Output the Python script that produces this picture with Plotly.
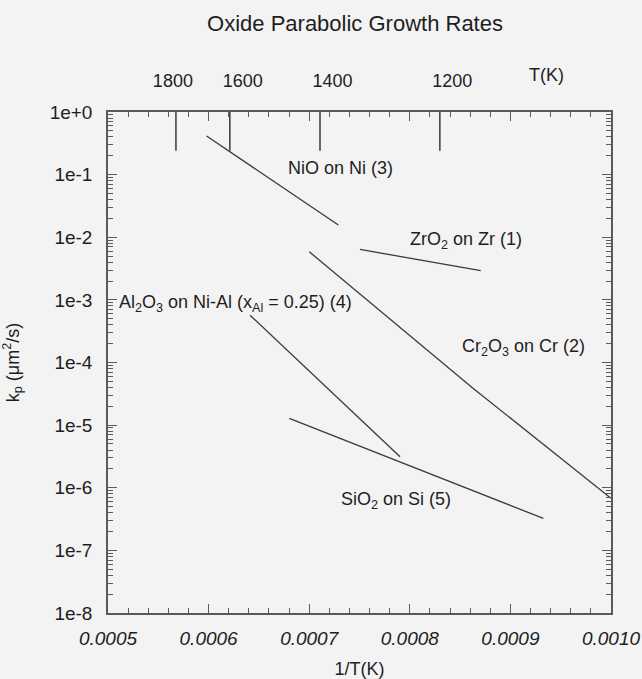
import numpy as np
import plotly.graph_objects as go

# ---- data ----
zro2_x = [0.0007505, 0.0008705]
zro2_y = [6.4e-3, 2.92e-3]

cr2o3_x = [0.0007001, 0.0008631, 0.0010]
cr2o3_y = [5.86e-3, 3.85e-5, 6.8e-7]

nio_x = [0.000598, 0.000729]
nio_y = [0.414, 1.57e-2]

al2o3_x = [0.0006412, 0.0007903]
al2o3_y = [5.7e-4, 3.12e-6]

sio2_x = [0.0006802, 0.0009327]
sio2_y = [1.28e-5, 3.24e-7]

top_T_labels = [1800, 1600, 1400, 1200]
top_line_T = [1762, 1610, 1407, 1205]

y_tickvals = [1e0, 1e-1, 1e-2, 1e-3, 1e-4, 1e-5, 1e-6, 1e-7, 1e-8]
y_ticktext = ["1e+0", "1e-1", "1e-2", "1e-3", "1e-4", "1e-5", "1e-6", "1e-7", "1e-8"]

labels = [
    ("NiO on Ni (3)", 0.0007316, -0.895, "center"),
    ("ZrO<sub>2</sub> on Zr (1)", 0.0008559, -2.045, "center"),
    ("Al<sub>2</sub>O<sub>3</sub> on Ni-Al (x<sub>Al</sub> = 0.25) (4)", 0.000509, -3.051, "left"),
    ("Cr<sub>2</sub>O<sub>3</sub> on Cr (2)", 0.0009135, -3.754, "center"),
    ("SiO<sub>2</sub> on Si (5)", 0.0007863, -6.198, "center"),
]

FONT = "Liberation Sans, Arial, sans-serif"
LINE = "#3a3a3a"
AX = "#5a5a5a"
TXT = "#1e1e1e"
BG = "#f3f3f3"

fig = go.Figure()
for xs, ys in [(zro2_x, zro2_y), (cr2o3_x, cr2o3_y), (nio_x, nio_y),
               (al2o3_x, al2o3_y), (sio2_x, sio2_y)]:
    fig.add_trace(go.Scatter(x=xs, y=ys, mode="lines",
                             line=dict(color=LINE, width=1.3),
                             showlegend=False, hoverinfo="skip"))

# long top tick marks for temperature
lx, ly = [], []
for T in top_line_T:
    lx += [1.0 / T, 1.0 / T, None]
    ly += [1.0, 10 ** -0.62, None]
fig.add_trace(go.Scatter(x=lx, y=ly, mode="lines", xaxis="x2", yaxis="y",
                         line=dict(color=LINE, width=1.5),
                         showlegend=False, hoverinfo="skip"))

minor_y = [m * 10.0 ** k for k in range(-8, 0) for m in range(2, 10)]

for text, x, y, anc in labels:
    fig.add_annotation(x=x, y=y, xref="x", yref="y", text=text, showarrow=False,
                       xanchor=anc, yanchor="middle",
                       font=dict(family=FONT, size=18, color=TXT))

fig.add_annotation(x=0.871, y=1.074, xref="paper", yref="paper", text="T(K)",
                   showarrow=False, xanchor="center", yanchor="middle",
                   font=dict(family=FONT, size=18, color=TXT))

fig.update_layout(
    width=642, height=679,
    margin=dict(l=108, r=31, t=112, b=66, autoexpand=False),
    paper_bgcolor=BG, plot_bgcolor=BG,
    title=dict(text="Oxide Parabolic Growth Rates", x=0.553, xanchor="center",
               y=1 - 23 / 679, yanchor="middle",
               font=dict(family=FONT, size=22, color=TXT)),
    xaxis=dict(range=[0.0005, 0.0010], tickvals=[0.0005, 0.0006, 0.0007, 0.0008, 0.0009, 0.0010],
               tickformat=".4f", ticks="inside", ticklen=9, tickwidth=1.2, tickcolor=AX,
               showline=True, linecolor=AX, linewidth=1.5, mirror="ticks",
               showgrid=False, zeroline=False, automargin=False,
               minor=dict(dtick=0.00002, ticks="inside", ticklen=5, tickcolor=AX, showgrid=False),
               tickfont=dict(family=FONT, size=19, color=TXT, style="italic"),
               ticklabelstandoff=7,
               title=dict(text="1/T(K)", font=dict(family=FONT, size=18, color=TXT), standoff=20)),
    xaxis2=dict(range=[0.0005, 0.0010], overlaying="x", side="top",
                tickvals=[1.0 / T for T in top_T_labels], ticktext=[str(T) for T in top_T_labels],
                ticks="", showline=False, showgrid=False, zeroline=False, automargin=False,
                ticklabelshift=9, ticklabelstandoff=20,
                tickfont=dict(family=FONT, size=18, color=TXT)),
    yaxis=dict(type="log", range=[-8, 0], tickvals=y_tickvals, ticktext=y_ticktext,
               ticks="inside", ticklen=9, tickwidth=1.2, tickcolor=AX,
               showline=True, linecolor=AX, linewidth=1.5, mirror="ticks",
               showgrid=False, zeroline=False, automargin=False,
               minor=dict(tickvals=minor_y, ticks="inside", ticklen=5, tickcolor=AX, showgrid=False),
               tickfont=dict(family=FONT, size=19, color=TXT),
               ticklabelstandoff=10,
               title=dict(text="k<sub>p</sub> (μm<sup>2</sup>/s)",
                          font=dict(family=FONT, size=18, color=TXT), standoff=26)),
)

fig.write_html("out.html")
